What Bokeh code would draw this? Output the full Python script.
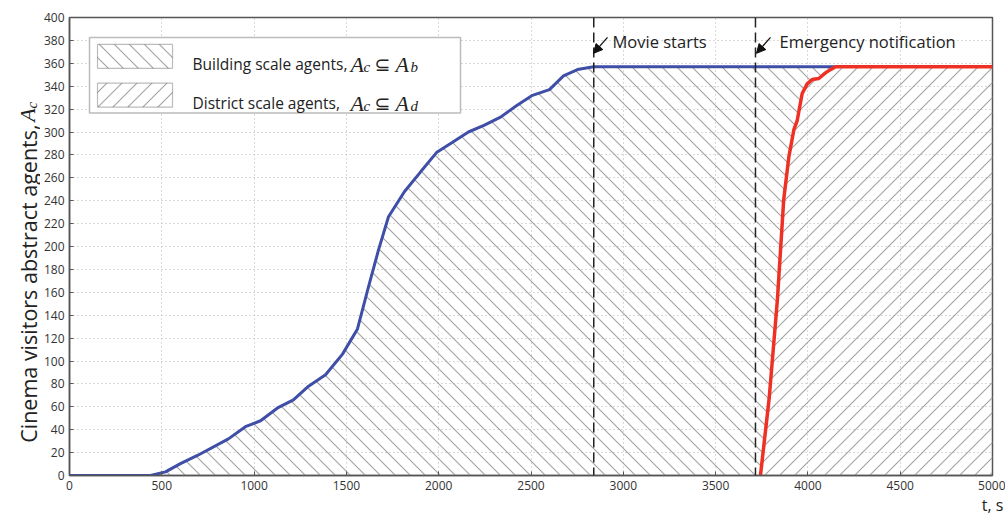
import math
import base64
from bokeh.plotting import figure
from bokeh.layouts import row
from bokeh.models import (Label, Span, Arrow, NormalHead, BoxAnnotation,
                          FixedTicker, LinearAxis, Range1d, ImageURLTexture)
from bokeh.embed import file_html
from bokeh.resources import INLINE

# ---------------- data ----------------
blue_t = [0, 439, 520, 601, 693, 861, 953, 1035, 1127, 1213, 1295, 1387, 1479,
          1560, 1620, 1674, 1728, 1815, 1901, 1988, 2075, 2161, 2248, 2335,
          2421, 2508, 2600, 2676, 2752, 2839, 4150]
blue_y = [0, 0, 3.2, 10.4, 17.5, 32, 42.6, 47.8, 59, 66, 78, 88, 106,
          128, 165, 197, 226, 248, 265, 282, 291, 300, 306, 313,
          323, 332, 337, 349, 354.5, 357, 357]

red_t = [3743, 3790, 3835, 3869, 3897, 3924, 3942, 3969, 3996, 4023, 4059,
         4095, 4122, 4150, 5000]
red_y = [0, 67, 154, 241, 278.5, 302, 310, 333.6, 342, 345.8, 346.7,
         351.6, 354.5, 357, 357]

movie_start = 2840
emergency = 3716
x_ticks = list(range(0, 5001, 500))
y_ticks = list(range(0, 401, 20))

# ---------------- layout (page pixels) ----------------
W, H = 1005, 518
LW = 40                      # width of the strip holding the y label
FL, FT, FR, FB = 69, 17, 992, 477
XMAX, YMAX = 5000, 400


def dx(px):
    return (px - FL) / (FR - FL) * XMAX


def dy(py):
    return (FB - py) / (FB - FT) * YMAX


TXT = "#222222"
HATCH = "#a2a2a2"
T = 15  # hatch tile size (px)


def texture(back):
    if back:   # "\" lines
        d = f"M-2,-2 L{T+2},{T+2} M-2,{T-2} L2,{T+2} M{T-2},-2 L{T+2},2"
    else:      # "/" lines
        d = f"M-2,{T+2} L{T+2},-2 M-2,2 L2,-2 M{T-2},{T+2} L{T+2},{T-2}"
    svg = (f'<svg xmlns="http://www.w3.org/2000/svg" width="{T}" height="{T}">'
           f'<path d="{d}" stroke="{HATCH}" stroke-width="1.1" fill="none"/></svg>')
    url = "data:image/svg+xml;base64," + base64.b64encode(svg.encode()).decode()
    return ImageURLTexture(url=url, repetition="repeat")


HEX = {"bs": texture(True), "fs": texture(False)}

# ---- y label strip ----
lab = figure(width=LW, height=H, x_range=Range1d(0, LW), y_range=Range1d(0, H),
             output_backend="svg", toolbar_location=None,
             x_axis_type=None, y_axis_type=None, min_border=0)
lab.outline_line_color = None
lab.grid.visible = False
lab.add_layout(Label(x=28, y=H - 481, text="Cinema visitors abstract agents,",
                     angle=math.pi / 2, text_align="left",
                     text_baseline="alphabetic", text_font="Open Sans",
                     text_font_size="21.5px", text_color=TXT))
lab.add_layout(Label(x=27, y=H - 118, text="A", angle=math.pi / 2,
                     text_align="left", text_baseline="alphabetic",
                     text_font="Liberation Serif", text_font_style="italic",
                     text_font_size="22px", text_color=TXT))
lab.add_layout(Label(x=31, y=H - 103, text="c", angle=math.pi / 2,
                     text_align="left", text_baseline="alphabetic",
                     text_font="Liberation Serif", text_font_style="italic",
                     text_font_size="15px", text_color=TXT))

# ---- main plot ----
p = figure(width=W - LW, height=H, x_range=(0, XMAX), y_range=(0, YMAX),
           output_backend="svg", toolbar_location=None,
           min_border_left=FL - LW, min_border_right=W - FR,
           min_border_top=FT, min_border_bottom=H - FB)
p.background_fill_color = "white"
p.border_fill_color = "white"
p.outline_line_color = "#555555"
p.outline_line_width = 1.5

for ax in (p.xaxis[0], p.yaxis[0]):
    ax.axis_line_color = "#555555"
    ax.axis_line_width = 1.5
    ax.major_tick_in = 4
    ax.major_tick_out = 0
    ax.major_tick_line_color = "#555555"
    ax.minor_tick_line_color = None
    ax.major_label_text_font = "Open Sans"
    ax.major_label_text_font_size = "12px"
    ax.major_label_text_color = "#333333"
    ax.major_label_standoff = 5

p.xaxis.ticker = FixedTicker(ticks=x_ticks)
p.yaxis.ticker = FixedTicker(ticks=y_ticks)

# second bottom axis carrying the "t, s" unit text at the right end
tax = LinearAxis(ticker=FixedTicker(ticks=[XMAX]),
                 major_label_overrides={XMAX: "t, s"})
tax.axis_line_color = None
tax.major_tick_line_color = None
tax.minor_tick_line_color = None
tax.major_tick_in = 0
tax.major_tick_out = 0
tax.major_label_standoff = 1
tax.major_label_text_font = "Open Sans"
tax.major_label_text_font_size = "16px"
tax.major_label_text_color = TXT
p.add_layout(tax, "below")

for g in (p.xgrid[0], p.ygrid[0]):
    g.grid_line_color = "#b5b5b5"
    g.grid_line_dash = "1 3"
    g.grid_line_width = 1

# hatched regions
bx = blue_t + red_t[:-1][::-1]
by = blue_y + red_y[:-1][::-1]
p.patch(bx, by, fill_color=None, line_color=None, hatch_pattern="bs",
        hatch_extra=HEX)
rx = red_t + [red_t[-1], red_t[0]]
ry = red_y + [0, 0]
p.patch(rx, ry, fill_color=None, line_color=None, hatch_pattern="fs",
        hatch_extra=HEX)

# dashed event lines
for loc in (movie_start, emergency):
    p.add_layout(Span(location=loc, dimension="height", line_color="#222222",
                      line_dash="10 5", line_width=1.5))

# curves
p.line(blue_t, blue_y, line_color="#3f4fa8", line_width=3)
p.line(red_t, red_y, line_color="#ee3124", line_width=3.5)

# annotations
for xs, xe, tx, txt in ((607, 593, 612, "Movie starts"),
                        (770, 756, 779, "Emergency notification")):
    p.add_layout(Arrow(end=NormalHead(size=9, fill_color="#111111",
                                      line_color="#111111"),
                       x_start=dx(xs), y_start=dy(37), x_end=dx(xe),
                       y_end=dy(53), line_color="#111111", line_width=1.3))
    p.add_layout(Label(x=dx(tx), y=dy(41), text=txt, text_baseline="middle",
                       text_font="Open Sans", text_font_size="16.5px",
                       text_color=TXT))

# legend
p.add_layout(BoxAnnotation(left=dx(89), right=dx(460), top=dy(37),
                           bottom=dy(113), fill_color="white", fill_alpha=1,
                           line_color="#222222", line_width=1.5))
for top, bot, pat in ((44, 68, "bs"), (83, 107, "fs")):
    p.add_layout(BoxAnnotation(left=dx(97), right=dx(172), top=dy(top),
                               bottom=dy(bot), fill_color="white",
                               fill_alpha=1, line_color="#222222",
                               line_width=1.2, hatch_pattern=pat,
                               hatch_extra=HEX))

leg_rows = (("Building scale agents,", "b", 64),
            ("District scale agents,", "d", 103))
for txt, sub2, base in leg_rows:
    p.add_layout(Label(x=dx(192), y=dy(base), text=txt,
                       text_baseline="alphabetic", text_font="Open Sans",
                       text_font_size="15.5px", text_color=TXT))
    p.add_layout(Label(x=dx(350), y=dy(base), text="A",
                       text_baseline="alphabetic", text_font="Liberation Serif",
                       text_font_style="italic", text_font_size="22px",
                       text_color=TXT))
    p.add_layout(Label(x=dx(363), y=dy(base + 3), text="c",
                       text_baseline="alphabetic", text_font="Liberation Serif",
                       text_font_style="italic", text_font_size="15px",
                       text_color=TXT))
    p.add_layout(Label(x=dx(374), y=dy(base), text="⊆",
                       text_baseline="alphabetic", text_font="DejaVu Sans",
                       text_font_size="19px", text_color=TXT))
    p.add_layout(Label(x=dx(395), y=dy(base), text="A",
                       text_baseline="alphabetic", text_font="Liberation Serif",
                       text_font_style="italic", text_font_size="22px",
                       text_color=TXT))
    p.add_layout(Label(x=dx(410), y=dy(base + 3), text=sub2,
                       text_baseline="alphabetic", text_font="Liberation Serif",
                       text_font_style="italic", text_font_size="15px",
                       text_color=TXT))

open("out.html", "w").write(file_html(row(lab, p), INLINE))
